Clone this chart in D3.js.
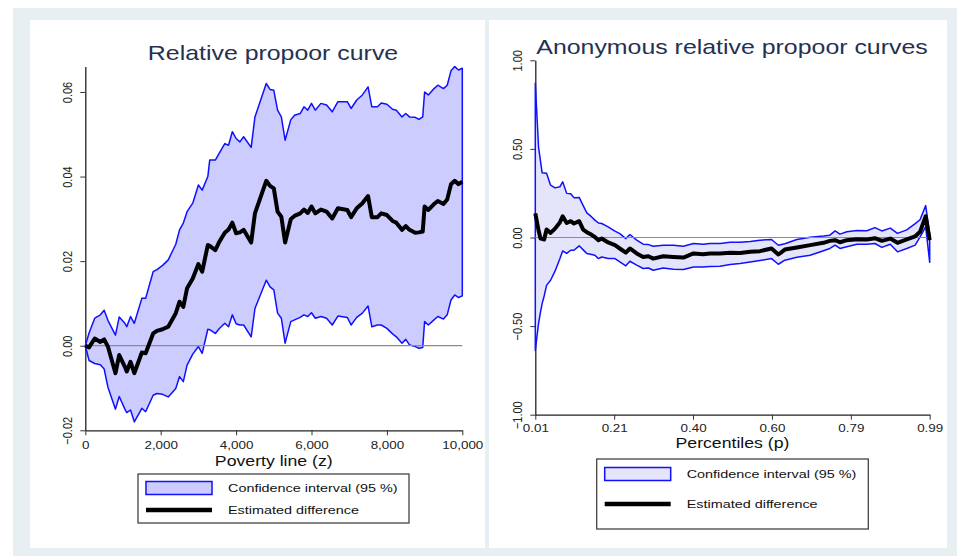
<!DOCTYPE html>
<html>
<head>
<meta charset="utf-8">
<script src="https://cdn.jsdelivr.net/npm/d3@7"></script>
<style>
  html, body { margin: 0; padding: 0; background: #fff; }
  svg { display: block; font-family: "Liberation Sans", Arial, sans-serif; }
</style>
</head>
<body>
<div id="chart"></div>
<script>
//---------------------------- DATA ----------------------------//
// left panel: relative propoor curve
const povertyLine = [0, 100, 250, 400, 500, 600, 800, 900, 1050, 1100, 1200, 1300, 1500, 1600, 1800, 1900,
  2050, 2200, 2400, 2500, 2600, 2700, 2850, 3000, 3100, 3250, 3300, 3450, 3550, 3700, 3800, 3900, 4000,
  4100, 4200, 4400, 4500, 4800, 4900, 5000, 5100, 5200, 5300, 5450, 5550, 5700, 5800, 5900, 6000, 6100,
  6250, 6400, 6550, 6700, 6950, 7050, 7200, 7350, 7500, 7600, 7750, 7850, 8000, 8150, 8250, 8400, 8500,
  8600, 8750, 8850, 8950, 9000, 9100, 9250, 9350, 9500, 9600, 9700, 9800, 9900, 10000];
const relUpper = [0, 0.0030, 0.0065, 0.0073, 0.0084, 0.0060, 0.0025, 0.0068, 0.0053, 0.0045, 0.0069, 0.0053,
  0.0112, 0.0112, 0.0175, 0.0180, 0.0190, 0.0203, 0.0240, 0.0274, 0.0290, 0.0317, 0.0337, 0.0380, 0.0368,
  0.0400, 0.0439, 0.0439, 0.0455, 0.0478, 0.0474, 0.0506, 0.0490, 0.0482, 0.0494, 0.0469, 0.0541, 0.0620,
  0.0606, 0.0604, 0.0557, 0.0541, 0.0486, 0.0534, 0.0545, 0.0549, 0.0565, 0.0557, 0.0573, 0.0557, 0.0573,
  0.0569, 0.0553, 0.0577, 0.0577, 0.0561, 0.0581, 0.0593, 0.0612, 0.0565, 0.0565, 0.0574, 0.0571, 0.0559,
  0.0557, 0.0541, 0.0549, 0.0541, 0.0540, 0.0535, 0.0541, 0.0600, 0.0593, 0.0608, 0.0616, 0.0608, 0.0616,
  0.0650, 0.0660, 0.0652, 0.0656];
const relEstimate = [0, -0.0004, 0.0017, 0.0009, 0.0015, -0.0002, -0.0065, -0.0022, -0.0050, -0.0061, -0.0038,
  -0.0065, -0.0016, -0.0018, 0.0029, 0.0035, 0.0039, 0.0045, 0.0077, 0.0104, 0.0092, 0.0136, 0.0159, 0.0193,
  0.0175, 0.0238, 0.0236, 0.0226, 0.0245, 0.0267, 0.0275, 0.0291, 0.0266, 0.0268, 0.0274, 0.0244, 0.0313,
  0.0390, 0.0378, 0.0372, 0.0317, 0.0305, 0.0244, 0.0299, 0.0307, 0.0313, 0.0322, 0.0314, 0.0329, 0.0313,
  0.0322, 0.0317, 0.0301, 0.0325, 0.0321, 0.0304, 0.0325, 0.0337, 0.0354, 0.0304, 0.0304, 0.0313, 0.0309,
  0.0295, 0.0291, 0.0274, 0.0283, 0.0274, 0.0267, 0.0268, 0.0270, 0.0329, 0.0321, 0.0335, 0.0342, 0.0335,
  0.0346, 0.0382, 0.0390, 0.0382, 0.0388];
const relLower = [0, -0.0035, -0.0042, -0.0045, -0.0055, -0.0098, -0.0150, -0.0120, -0.0150, -0.0158, -0.0152,
  -0.0180, -0.0148, -0.0156, -0.0117, -0.0113, -0.0115, -0.0121, -0.0101, -0.0073, -0.0085, -0.0046, -0.0020,
  -0.0002, -0.0018, 0.0039, 0.0038, 0.0029, 0.0040, 0.0053, 0.0045, 0.0073, 0.0052, 0.0049, 0.0049, 0.0021,
  0.0088, 0.0155, 0.0139, 0.0132, 0.0077, 0.0065, 0.0006, 0.0057, 0.0061, 0.0067, 0.0073, 0.0069, 0.0078,
  0.0065, 0.0069, 0.0065, 0.0049, 0.0070, 0.0067, 0.0049, 0.0067, 0.0077, 0.0094, 0.0045, 0.0049, 0.0049,
  0.0041, 0.0028, 0.0021, 0.0006, 0.0015, 0.0002, -0.0002, -0.0006, -0.0004, 0.0057, 0.0049, 0.0061, 0.0069,
  0.0063, 0.0073, 0.0108, 0.0120, 0.0114, 0.0118];

// right panel: anonymous relative propoor curves
const percentiles = [0.010, 0.018, 0.023, 0.027, 0.032, 0.038, 0.048, 0.059, 0.071, 0.078, 0.088, 0.098,
  0.106, 0.119, 0.129, 0.138, 0.150, 0.158, 0.167, 0.175, 0.191, 0.208, 0.220, 0.235, 0.245, 0.262, 0.278,
  0.291, 0.303, 0.328, 0.353, 0.378, 0.403, 0.427, 0.444, 0.469, 0.494, 0.519, 0.544, 0.568, 0.597, 0.614,
  0.630, 0.660, 0.693, 0.726, 0.742, 0.755, 0.767, 0.784, 0.809, 0.834, 0.854, 0.871, 0.892, 0.910, 0.933,
  0.954, 0.966, 0.980, 0.990];
const anonUpper = [0.870, 0.512, 0.430, 0.365, 0.364, 0.362, 0.295, 0.280, 0.286, 0.314, 0.249, 0.247, 0.225,
  0.226, 0.180, 0.139, 0.116, 0.098, 0.082, 0.079, 0.060, 0.036, 0.022, -0.006, 0.017, -0.015, -0.038, -0.040,
  -0.049, -0.044, -0.044, -0.049, -0.034, -0.038, -0.034, -0.034, -0.027, -0.027, -0.022, -0.015, -0.011,
  -0.044, -0.035, -0.011, 0.002, 0.008, 0.013, 0.037, 0.019, 0.032, 0.040, 0.038, 0.056, 0.037, 0.053, 0.023,
  0.043, 0.078, 0.100, 0.180, 0.020];
const anonEstimate = [0.136, 0.041, -0.006, -0.008, -0.011, 0.045, 0.026, 0.050, 0.085, 0.120, 0.082, 0.092,
  0.079, 0.092, 0.045, 0.030, 0.015, 0.003, -0.015, -0.006, -0.028, -0.043, -0.062, -0.085, -0.062, -0.090,
  -0.110, -0.106, -0.119, -0.106, -0.110, -0.113, -0.090, -0.094, -0.090, -0.090, -0.086, -0.088, -0.081,
  -0.077, -0.062, -0.096, -0.068, -0.056, -0.043, -0.030, -0.019, -0.015, -0.027, -0.015, -0.010, -0.011,
  -0.004, -0.019, -0.006, -0.030, -0.011, 0.007, 0.032, 0.120, -0.015];
const anonLower = [-0.637, -0.486, -0.420, -0.373, -0.330, -0.270, -0.241, -0.190, -0.120, -0.076, -0.090,
  -0.072, -0.072, -0.047, -0.070, -0.090, -0.096, -0.100, -0.119, -0.110, -0.119, -0.119, -0.138, -0.160,
  -0.134, -0.156, -0.175, -0.172, -0.185, -0.172, -0.179, -0.181, -0.166, -0.166, -0.164, -0.162, -0.153,
  -0.147, -0.138, -0.130, -0.119, -0.151, -0.128, -0.112, -0.100, -0.075, -0.062, -0.043, -0.062, -0.052,
  -0.038, -0.038, -0.034, -0.056, -0.038, -0.081, -0.062, -0.043, 0.003, 0.060, -0.140];

// ticks
const relXTicks = [0, 2000, 4000, 6000, 8000, 10000];
const relYTicks = [-0.02, 0, 0.02, 0.04, 0.06];
const anonXTicks = [0.01, 0.206, 0.402, 0.598, 0.794, 0.99];
const anonYTicks = [-1, -0.5, 0, 0.5, 1];
const legendLabels = ["Confidence interval (95 %)", "Estimated difference"];

//---------------------------- SVG -----------------------------//
const width = 957;
const height = 556;
const stretch = 1.22;   // the original export is widened a little, text included
const svg = d3.select("#chart").append("svg")
    .attr("width", width)
    .attr("height", height);

// page background and the two white panels
svg.append("rect").attr("x", 13).attr("y", 8).attr("width", width - 13).attr("height", height - 8)
    .attr("fill", "#e8eff2");
svg.append("rect").attr("x", 30).attr("y", 20).attr("width", 455).attr("height", 528).attr("fill", "#fff");
svg.append("rect").attr("x", 489).attr("y", 20).attr("width", 458).attr("height", 528).attr("fill", "#fff");

// a text drawn at (x, y) and widened from its anchor
function wideText(g, x, y, txt, size, anchor, color) {
    return g.append("text")
        .attr("transform", "translate(" + x + "," + y + ") scale(" + stretch + ",1)")
        .attr("text-anchor", anchor)
        .style("font-size", size)
        .attr("fill", color)
        .text(txt);
}

//--------------------------- PANELS ---------------------------//
function drawPanel(cfg) {
    const g = svg.append("g");
    const xScale = d3.scaleLinear().domain(cfg.xDomain).range(cfg.xRange);
    const yScale = d3.scaleLinear().domain(cfg.yDomain).range(cfg.yRange);
    const rows = cfg.x.map(function(d, i) {
        return { x: d, lo: cfg.lower[i], hi: cfg.upper[i], est: cfg.est[i] };
    });

    // axes
    const xaxis = d3.axisBottom(xScale).tickValues(cfg.xTicks).tickFormat(cfg.xFormat)
        .tickSize(5).tickSizeOuter(0);
    const yaxis = d3.axisLeft(yScale).tickValues(cfg.yTicks).tickFormat(d3.format(".2f"))
        .tickSize(5).tickSizeOuter(0);

    const gx = g.append("g")
        .attr("transform", "translate(0," + cfg.yRange[0] + ")")
        .call(xaxis);
    gx.selectAll("text")
        .attr("y", cfg.xLabelY).attr("dy", 0)
        .attr("transform", "scale(" + stretch + ",1)")
        .style("font-size", "11px").attr("fill", "#222");

    const gy = g.append("g")
        .attr("transform", "translate(" + cfg.xRange[0] + ",0)")
        .call(yaxis);
    gy.selectAll("text")
        .attr("transform", "scale(" + stretch + ",1) rotate(-90)")
        .attr("x", 0).attr("y", -cfg.yLabelGap / stretch).attr("dy", 0)
        .attr("text-anchor", "middle")
        .style("font-size", "11px").attr("fill", "#222");

    [gx, gy].forEach(function(a) {
        a.select(".domain").attr("stroke", "#222").attr("stroke-width", 1.3);
        a.selectAll(".tick line").attr("stroke", "#333");
    });

    // confidence band
    const area = d3.area()
        .x(function(d) { return xScale(d.x); })
        .y0(function(d) { return yScale(d.lo); })
        .y1(function(d) { return yScale(d.hi); });
    g.append("path")
        .datum(rows)
        .attr("d", area)
        .attr("fill", cfg.bandFill)
        .attr("stroke", "#1010ff")
        .attr("stroke-width", 1.5)
        .attr("stroke-linejoin", "round");

    // zero reference
    g.append("line")
        .attr("x1", xScale(cfg.xDomain[0])).attr("x2", xScale(cfg.xDomain[1]))
        .attr("y1", yScale(0)).attr("y2", yScale(0))
        .attr("stroke", "#8c8c8c").attr("stroke-width", 1.2);

    // estimated difference
    const line = d3.line()
        .x(function(d) { return xScale(d.x); })
        .y(function(d) { return yScale(d.est); });
    g.append("path")
        .datum(rows)
        .attr("d", line)
        .attr("fill", "none")
        .attr("stroke", "#000")
        .attr("stroke-width", 4)
        .attr("stroke-linejoin", "round");

    // texts
    wideText(g, cfg.titleX, cfg.titleY, cfg.title, "20.4px", "middle", "#243152");
    wideText(g, (cfg.xRange[0] + cfg.xRange[1]) / 2, cfg.xTitleY, cfg.xTitle, "14.5px", "middle", "#111");

    // legend
    const L = cfg.legend;
    g.append("rect")
        .attr("x", L.x).attr("y", L.y).attr("width", L.w).attr("height", L.h)
        .attr("fill", "#fff").attr("stroke", "#444").attr("stroke-width", 1.3);
    g.append("rect")
        .attr("x", L.x + 8).attr("y", L.sw1 - 6.5).attr("width", 66).attr("height", 13)
        .attr("fill", cfg.bandFill).attr("stroke", "#1010ff").attr("stroke-width", 1.5);
    g.append("line")
        .attr("x1", L.x + 8).attr("x2", L.x + 74).attr("y1", L.sw2).attr("y2", L.sw2)
        .attr("stroke", "#000").attr("stroke-width", 4.5);
    legendLabels.forEach(function(d, i) {
        wideText(g, L.x + 90, (i === 0 ? L.sw1 : L.sw2) + 4.3, d, "11.8px", "start", "#111");
    });
}

drawPanel({
    x: povertyLine, upper: relUpper, lower: relLower, est: relEstimate,
    xDomain: [0, 10000], xRange: [85.3, 462.3],
    yDomain: [-0.02, 0.066], yRange: [430.3, 66.6],
    xTicks: relXTicks, yTicks: relYTicks, xFormat: d3.format(","),
    xLabelY: 19.2, yLabelGap: 13.8,
    bandFill: "#ccccff",
    title: "Relative propoor curve", titleX: 273, titleY: 60,
    xTitle: "Poverty line (z)", xTitleY: 466,
    legend: { x: 138, y: 474, w: 271, h: 49, sw1: 488, sw2: 510 }
});

drawPanel({
    x: percentiles, upper: anonUpper, lower: anonLower, est: anonEstimate,
    xDomain: [0.01, 0.99], xRange: [535.3, 929.7],
    yDomain: [-1, 1], yRange: [414.7, 60.3],
    xTicks: anonXTicks, yTicks: anonYTicks, xFormat: d3.format(".2f"),
    xLabelY: 17.8, yLabelGap: 13,
    bandFill: "#e4e4fb",
    title: "Anonymous relative propoor curves", titleX: 732, titleY: 53.5,
    xTitle: "Percentiles (p)", xTitleY: 448,
    legend: { x: 596.7, y: 459, w: 271.6, h: 70, sw1: 474, sw2: 504 }
});
</script>
</body>
</html>
